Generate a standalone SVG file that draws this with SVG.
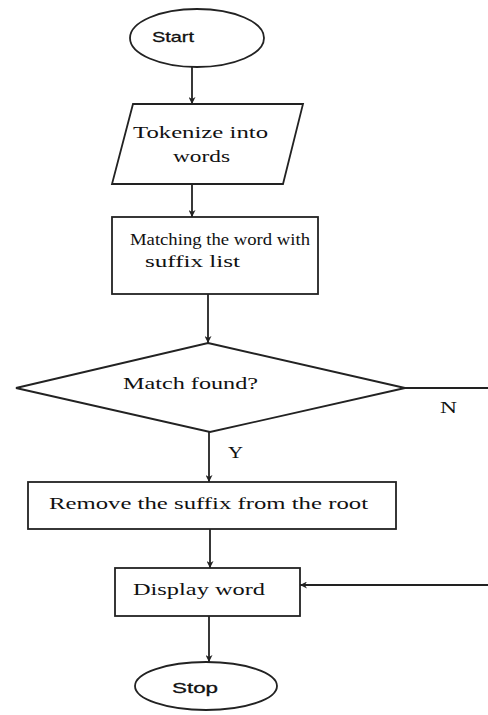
<svg xmlns="http://www.w3.org/2000/svg" width="488" height="715" viewBox="0 0 488 715">
<style>
.s{fill:#fff;stroke:#222;stroke-width:1.8}
.c{fill:none;stroke:#222;stroke-width:1.8}
.t{font-family:"Liberation Serif","Times New Roman",serif;font-size:16px;fill:#111}
.a{font-family:"Liberation Sans",Arial,sans-serif;font-size:15px;fill:#111;stroke:#111;stroke-width:0.3}
</style>
<defs>
<marker id="ah" viewBox="0 0 10 10" refX="10" refY="5" markerWidth="7" markerHeight="7" orient="auto" markerUnits="userSpaceOnUse">
<path d="M0,0 L10,5 L0,10 L3,5 Z" fill="#222"/>
</marker>
</defs>
<g id="connectors">
<line class="c" x1="192" y1="67" x2="192" y2="104" marker-end="url(#ah)"/>
<line class="c" x1="192" y1="184" x2="192" y2="217" marker-end="url(#ah)"/>
<line class="c" x1="208" y1="294" x2="208" y2="343" marker-end="url(#ah)"/>
<line class="c" x1="405" y1="388" x2="488" y2="388"/>
<line class="c" x1="209" y1="432" x2="209" y2="482" marker-end="url(#ah)"/>
<line class="c" x1="210" y1="529" x2="210" y2="568" marker-end="url(#ah)"/>
<line class="c" x1="488" y1="585" x2="300" y2="585" marker-end="url(#ah)"/>
<line class="c" x1="209" y1="616" x2="209" y2="662" marker-end="url(#ah)"/>
<text class="t" x="440" y="413" textLength="17" lengthAdjust="spacingAndGlyphs">N</text>
<text class="t" x="228" y="458" textLength="15" lengthAdjust="spacingAndGlyphs">Y</text>
</g>
<g id="start">
<ellipse class="s" cx="197" cy="38" rx="67" ry="29"/>
<text class="a" x="152" y="42" textLength="42" lengthAdjust="spacingAndGlyphs">Start</text>
</g>
<g id="tokenize">
<polygon class="s" points="133,104 303,104 283,184 112,184"/>
<text class="t" x="133" y="138" textLength="135" lengthAdjust="spacingAndGlyphs">Tokenize  into</text>
<text class="t" x="173" y="162" textLength="57" lengthAdjust="spacingAndGlyphs">words</text>
</g>
<g id="matching">
<rect class="s" x="112" y="217" width="206" height="77"/>
<text class="t" x="130" y="245" textLength="180" lengthAdjust="spacingAndGlyphs">Matching the word with</text>
<text class="t" x="145" y="267" textLength="95" lengthAdjust="spacingAndGlyphs">suffix  list</text>
</g>
<g id="decision">
<polygon class="s" points="208,343 405,388 210,432 16,388"/>
<text class="t" x="123" y="389" textLength="135" lengthAdjust="spacingAndGlyphs">Match  found?</text>
</g>
<g id="remove">
<rect class="s" x="28" y="482" width="368" height="47"/>
<text class="t" x="49" y="509" textLength="319" lengthAdjust="spacingAndGlyphs">Remove the suffix from the root</text>
</g>
<g id="display">
<rect class="s" x="115" y="568" width="185" height="48"/>
<text class="t" x="133" y="595" textLength="132" lengthAdjust="spacingAndGlyphs">Display  word</text>
</g>
<g id="stop">
<ellipse class="s" cx="206" cy="686" rx="71" ry="24"/>
<text class="a" x="172" y="693" textLength="46" lengthAdjust="spacingAndGlyphs">Stop</text>
</g>
</svg>
